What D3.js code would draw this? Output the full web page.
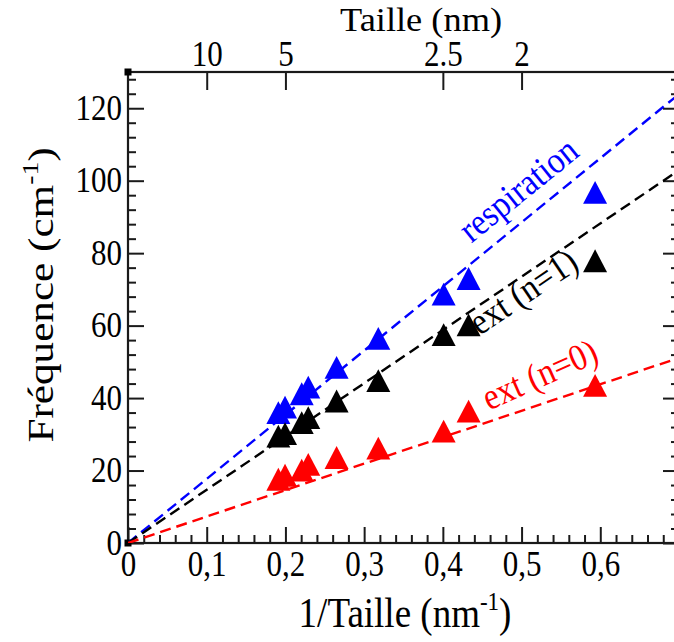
<!DOCTYPE html>
<html>
<head>
<meta charset="utf-8">
<script src="https://cdn.jsdelivr.net/npm/d3@7"></script>
<style>
  html, body { margin: 0; padding: 0; background: #fff; }
  svg { display: block; }
  text { font-family: "Liberation Serif", "Times New Roman", serif; }
</style>
</head>
<body>
<svg id="chart" width="674" height="642"></svg>
<script>
// ---- data ----
const invSize = [0.191, 0.1995, 0.2207, 0.229, 0.265, 0.318, 0.401, 0.4327, 0.5934];
const respiration = [36.0, 37.5, 41.2, 43.0, 48.5, 56.5, 68.7, 73.0, 96.8];
const extN1 = [29.5, 30.2, 33.2, 34.6, 39.2, 44.8, 57.5, 60.2, 77.9];
const extN0 = [17.6, 18.7, 20.1, 21.7, 23.6, 26.2, 30.9, 36.4, 43.5];
const seriesNames = ["respiration", "ext (n=1)", "ext (n=0)"];
const seriesColors = ["#0000ff", "#000000", "#ff0000"];
const fitSlopes = [177, 147, 73];           // dashed fit lines through the origin
const xTickValues = [0, 0.1, 0.2, 0.3, 0.4, 0.5, 0.6];
const xTickLabels = ["0", "0,1", "0,2", "0,3", "0,4", "0,5", "0,6"];
const yTickValues = [0, 20, 40, 60, 80, 100, 120];
const topTickValues = [0.1, 0.2, 0.4, 0.5];
const topTickLabels = ["10", "5", "2.5", "2"];

// ---- layout ----
const svg = d3.select("#chart");
const L = 128, R = 679, T = 72, B = 543;
const x = d3.scaleLinear().domain([0, 0.7]).range([L, R]);
const y = d3.scaleLinear().domain([0, 130]).range([B, T]);
const axisColor = "#1a1a1a";
const tickFont = 31;
const stretch = 1.13;   // the reference's lettering is slightly taller than wide

svg.append("defs").append("clipPath").attr("id", "plotclip")
  .append("rect").attr("x", L).attr("y", T).attr("width", R - L).attr("height", B - T);

function styleAxis(g) {
  g.select(".domain").remove();
  g.selectAll(".tick line").attr("stroke", axisColor).attr("stroke-width", 2);
  g.selectAll(".tick text").attr("fill", "#000").attr("font-size", tickFont)
    .attr("font-family", "Liberation Serif, Times New Roman, serif");
}

// minor ticks
const yMinor = d3.range(0, 130.1, 4).filter(v => v % 20 !== 0);
const xMinor = d3.range(0, 0.7001, 0.02).map(v => +v.toFixed(2))
  .filter(v => Math.abs(v * 10 - Math.round(v * 10)) > 1e-6);

svg.append("g").attr("transform", `translate(${L},0)`)
  .call(d3.axisLeft(y).tickValues(yMinor).tickSize(-8).tickFormat(""))
  .call(styleAxis);
svg.append("g").attr("transform", `translate(${R},0)`)
  .call(d3.axisRight(y).tickValues(yMinor).tickSize(-8).tickFormat(""))
  .call(styleAxis);
svg.append("g").attr("transform", `translate(0,${B})`)
  .call(d3.axisBottom(x).tickValues(xMinor).tickSize(-8).tickFormat(""))
  .call(styleAxis);

// major ticks + labels
svg.append("g").attr("transform", `translate(${L},0)`)
  .call(d3.axisLeft(y).tickValues(yTickValues).tickSize(-16).tickPadding(6).tickFormat(d3.format("d")))
  .call(styleAxis)
  .call(g => g.selectAll(".tick text").attr("x", null).attr("dy", null)
    .attr("transform", `translate(-6,11) scale(1,${stretch})`));
svg.append("g").attr("transform", `translate(${R},0)`)
  .call(d3.axisRight(y).tickValues(yTickValues).tickSize(-16).tickFormat(""))
  .call(styleAxis);
svg.append("g").attr("transform", `translate(0,${B})`)
  .call(d3.axisBottom(x).tickValues(xTickValues).tickSize(-16)
    .tickFormat((d, i) => xTickLabels[i]))
  .call(styleAxis)
  .call(g => g.selectAll(".tick text").attr("y", null).attr("dy", null)
    .attr("transform", `translate(0,33) scale(1,${stretch})`));
svg.append("g").attr("transform", `translate(0,${T})`)
  .call(d3.axisTop(x).tickValues(topTickValues).tickSize(-18)
    .tickFormat((d, i) => topTickLabels[i]))
  .call(styleAxis)
  .call(g => g.selectAll(".tick text").attr("y", null).attr("dy", null)
    .attr("transform", `translate(0,-6) scale(1,${stretch})`));

// frame
svg.append("rect").attr("x", L).attr("y", T).attr("width", R - L).attr("height", B - T)
  .attr("fill", "none").attr("stroke", axisColor).attr("stroke-width", 2.2);

// corner squares
svg.append("g").selectAll("rect").data([[0, 0], [0, 130]]).join("rect")
  .attr("x", d => x(d[0]) - 3.5).attr("y", d => y(d[1]) - 3.5)
  .attr("width", 7).attr("height", 7).attr("fill", "#000");

// dashed fit lines
const plot = svg.append("g").attr("clip-path", "url(#plotclip)");
const line = d3.line().x(d => x(d[0])).y(d => y(d[1]));
fitSlopes.forEach((s, i) => {
  const pts = x.domain().map(v => [v, s * v]);
  plot.append("path").attr("d", line(pts)).attr("fill", "none")
    .attr("stroke", seriesColors[i]).attr("stroke-width", 2.4)
    .attr("stroke-dasharray", "11,6");
});

// triangle markers
const triangleUp = {
  draw(ctx, size) {
    const w = Math.sqrt(size) / 2, h = w * 0.95;
    ctx.moveTo(0, -h); ctx.lineTo(w, h); ctx.lineTo(-w, h); ctx.closePath();
  }
};
const sym = d3.symbol().type(triangleUp).size(24 * 24);
[respiration, extN1, extN0].forEach((vals, i) => {
  plot.append("g").selectAll("path").data(vals).join("path")
    .attr("d", sym)
    .attr("transform", (d, j) => `translate(${x(invSize[j])},${y(d)})`)
    .attr("fill", seriesColors[i]);
});

// annotations along the lines
const annot = [
  { text: seriesNames[0], xv: 0.436, yv: 82.6, angle: -39, color: seriesColors[0] },
  { text: seriesNames[1], xv: 0.4465, yv: 57.1, angle: -34, color: seriesColors[1] },
  { text: seriesNames[2], xv: 0.4585, yv: 36.5, angle: -24, color: seriesColors[2] }
];
svg.append("g").selectAll("text").data(annot).join("text")
  .attr("transform", d => `translate(${x(d.xv)},${y(d.yv)}) rotate(${d.angle}) scale(1,${stretch})`)
  .attr("fill", d => d.color).attr("font-size", 33).text(d => d.text);

// titles
svg.append("text").attr("transform", "translate(421,31) scale(1.07,1)").attr("text-anchor", "middle")
  .attr("font-size", 34).text("Taille (nm)");

const bt = svg.append("text").attr("transform", `translate(405,627) scale(1,${stretch})`)
  .attr("text-anchor", "middle").attr("font-size", 37);
bt.append("tspan").text("1/Taille (nm");
bt.append("tspan").attr("font-size", 23).attr("dy", -15).text("-1");
bt.append("tspan").attr("dy", 15).text(")");

const lt = svg.append("text").attr("transform", "translate(53,295) rotate(-90) scale(1.2,1)")
  .attr("text-anchor", "middle").attr("font-size", 36);
lt.append("tspan").text("Fréquence (cm");
lt.append("tspan").attr("font-size", 23).attr("dy", -15).text("-1");
lt.append("tspan").attr("dy", 15).text(")");
</script>
</body>
</html>
